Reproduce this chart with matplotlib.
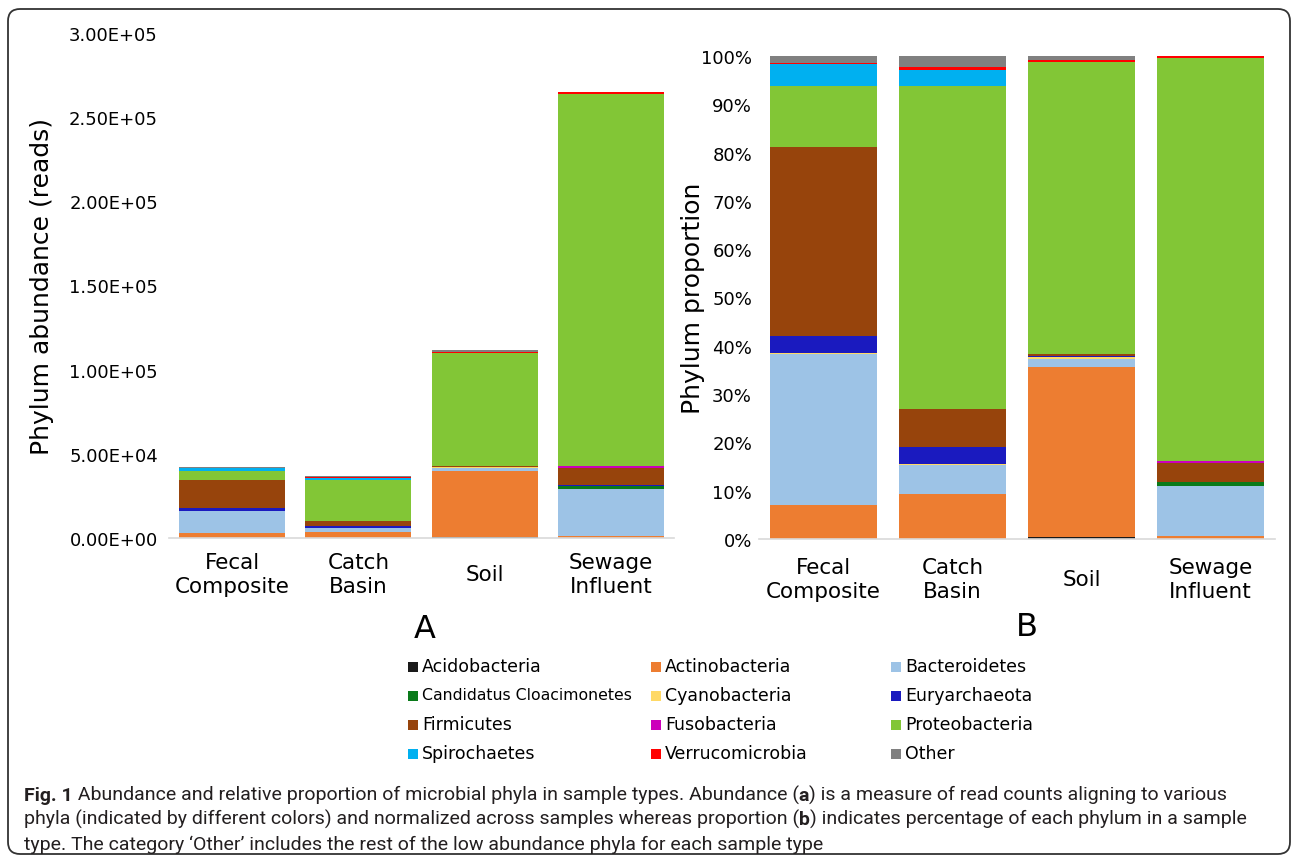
import matplotlib
matplotlib.use('Agg')
import numpy as np
import matplotlib.pyplot as plt
from matplotlib.patches import FancyBboxPatch, Rectangle
from matplotlib.ticker import FuncFormatter
from matplotlib.transforms import IdentityTransform

# sample types and total reads (panel A)
samples = ["Fecal\nComposite", "Catch\nBasin", "Soil", "Sewage\nInfluent"]
total_reads = [42200, 37000, 111400, 264800]

# phylum proportions in % (panel B), order: Fecal, Catch, Soil, Sewage
acidobacteria = [0.0, 0.0, 0.5, 0.0]
actinobacteria = [7.0, 9.3, 35.2, 0.55]
bacteroidetes = [31.2, 6.1, 1.6, 10.5]
cloacimonetes = [0.1, 0.0, 0.0, 0.7]
cyanobacteria = [0.3, 0.2, 0.3, 0.0]
euryarchaeota = [3.5, 3.4, 0.3, 0.1]
firmicutes = [39.0, 8.0, 0.5, 3.8]
fusobacteria = [0.1, 0.0, 0.0, 0.6]
proteobacteria = [12.6, 66.8, 60.3, 83.35]
spirochaetes = [4.5, 3.3, 0.1, 0.0]
verrucomicrobia = [0.3, 0.6, 0.4, 0.4]
other = [1.4, 2.3, 0.9, 0.0]

phyla = ["Acidobacteria", "Actinobacteria", "Bacteroidetes",
         "Candidatus Cloacimonetes", "Cyanobacteria", "Euryarchaeota",
         "Firmicutes", "Fusobacteria", "Proteobacteria",
         "Spirochaetes", "Verrucomicrobia", "Other"]
series = [acidobacteria, actinobacteria, bacteroidetes, cloacimonetes,
          cyanobacteria, euryarchaeota, firmicutes, fusobacteria,
          proteobacteria, spirochaetes, verrucomicrobia, other]
colors = ["#1a1a1a", "#ed7d31", "#9dc3e6", "#0a7a1a", "#ffd966", "#1a1abf",
          "#97440c", "#cc00bb", "#82c636", "#00b0f0", "#ff0000", "#808080"]

W, H = 1292, 862


def px(x, y):
    return x / W, 1 - y / H


fig = plt.figure(figsize=(W / 100, H / 100), dpi=100)
ax_a = fig.add_axes([169 / W, 1 - 539 / H, 505 / W, 505 / H])
ax_b = fig.add_axes([759 / W, 1 - 540 / H, 516 / W, 483 / H])

x = np.arange(len(samples))
bottom_a = np.zeros(len(samples))
bottom_b = np.zeros(len(samples))
for pct, col in zip(series, colors):
    pct = np.array(pct)
    reads = np.array(total_reads) * pct / 100.0
    ax_a.bar(x, reads, 0.84, bottom=bottom_a, color=col, linewidth=0)
    ax_b.bar(x, pct, 0.83, bottom=bottom_b, color=col, linewidth=0)
    bottom_a += reads
    bottom_b += pct

for ax, pad, ypad in [(ax_a, 26, 8), (ax_b, 29, 5)]:
    for side in ['top', 'right', 'left']:
        ax.spines[side].set_visible(False)
    ax.spines['bottom'].set_color('#d9d9d9')
    ax.spines['bottom'].set_linewidth(1.2)
    ax.set_xlim(-0.5, 3.5)
    ax.set_xticks(x)
    ax.set_xticklabels(samples, fontsize=15.5, va='center', linespacing=1.25)
    ax.tick_params(axis='x', length=0, pad=pad)
    ax.tick_params(axis='y', length=0, pad=ypad, labelsize=13)

ax_a.set_ylim(0, 3e5)
ax_a.set_yticks(np.arange(0, 3.01e5, 5e4))
ax_a.yaxis.set_major_formatter(FuncFormatter(lambda v, p: f"{v:.2E}"))
ax_a.set_ylabel("Phylum abundance (reads)", fontsize=18, labelpad=11)

ax_b.set_ylim(0, 100)
ax_b.set_yticks(np.arange(0, 101, 10))
ax_b.yaxis.set_major_formatter(FuncFormatter(lambda v, p: f"{int(v)}%"))
ax_b.set_ylabel("Phylum proportion", fontsize=18, labelpad=-3)

fig.text(*px(425, 630), "A", fontsize=23, ha='center', va='center')
fig.text(*px(1027, 628), "B", fontsize=23, ha='center', va='center')

# legend, laid out row by row in three columns
col_x = [408, 651, 891]
row_y = [667, 696, 725, 754]
for i, (name, col) in enumerate(zip(phyla, colors)):
    cx = col_x[i % 3]
    cy = row_y[i // 3]
    x0, y0 = px(cx, cy + 6)
    fig.add_artist(Rectangle((x0, y0), 10 / W, 10 / H, transform=fig.transFigure,
                             facecolor=col, edgecolor='none'))
    fs = 11.3 if name.startswith("Candidatus") else 12.5
    fig.text(*px(cx + 14, cy), name, fontsize=fs, ha='left', va='center')

# frame around figure and caption
fig.add_artist(FancyBboxPatch((8, 7), 1282, 845,
                              boxstyle="round,pad=0,rounding_size=12",
                              transform=IdentityTransform(), fill=False,
                              edgecolor='#333333', linewidth=1.3))

caption = [
    [("Fig. 1", 'bold'),
     (" Abundance and relative proportion of microbial phyla in sample types. Abundance (", 'normal'),
     ("a", 'bold'), (") is a measure of read counts aligning to various", 'normal')],
    [("phyla (indicated by different colors) and normalized across samples whereas proportion (", 'normal'),
     ("b", 'bold'), (") indicates percentage of each phylum in a sample", 'normal')],
    [("type. The category \u2018Other\u2019 includes the rest of the low abundance phyla for each sample type", 'normal')],
]
cap_y = [801, 825, 850]
cap_widths = [1231, 1214]
renderer = fig.canvas.get_renderer()


def draw_line(parts, x_pix, y_pix, size):
    arts = []
    xx = x_pix
    for s, w in parts:
        t = fig.text(xx / W, 1 - y_pix / H, s, fontsize=size, fontweight=w,
                     family='Roboto', color='#231f20', ha='left', va='baseline')
        xx += t.get_window_extent(renderer=renderer).width
        arts.append(t)
    return arts, xx - x_pix


# pick a caption size so the first two lines fit their widths
sizes = []
for parts, target in zip(caption[:2], cap_widths):
    arts, width = draw_line(parts, 24, 0, 12)
    for a in arts:
        a.remove()
    sizes.append(12 * target / width)
size = min(sizes)
for parts, yy in zip(caption, cap_y):
    draw_line(parts, 24, yy, size)

fig.savefig("out.png", dpi=100)
